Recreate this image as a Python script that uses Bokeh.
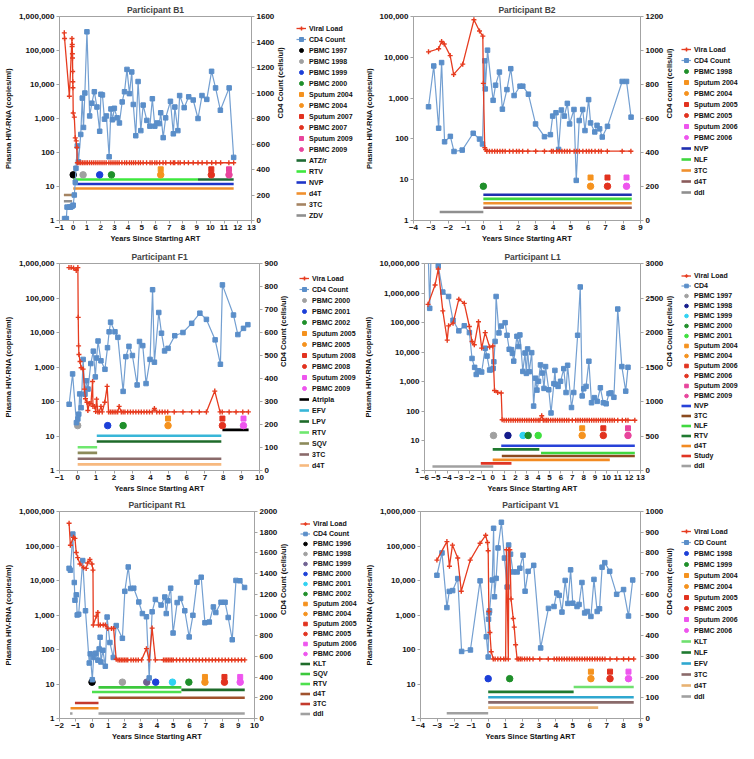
import math
from bokeh.plotting import figure
from bokeh.models import Range1d, LinearAxis, LinearScale, FixedTicker, NumeralTickFormatter, Legend, LegendItem
from bokeh.layouts import column, row
from bokeh.embed import file_html
from bokeh.resources import INLINE

# ======================= DATA =======================
# ---- Participant B1 ----
B1_vl_years = [-0.65, -0.63, -0.28, -0.09, -0.08, -0.07, -0.06, -0.05, -0.04, -0.03,
               -0.02, 0.0, 0.08, 0.15, 0.22, 0.26, 0.3, 0.42, 0.55, 0.68,
               0.8, 0.93, 1.05, 1.2, 1.35, 1.5, 1.65, 1.8, 1.95, 2.1,
               2.25, 2.4, 2.6, 2.75, 2.9, 3.05, 3.2, 3.35, 3.55, 3.75,
               3.9, 4.1, 4.25, 4.4, 4.55, 4.75, 4.9, 5.1, 5.35, 5.6,
               5.75, 5.95, 6.1, 6.3, 6.55, 6.75, 7.1, 7.3, 7.4, 7.65,
               7.8, 8.1, 8.4, 8.75, 9.1, 9.4, 9.75, 10.1, 10.4, 10.75,
               11.35, 11.7]
B1_vl = [330000, 225000, 4500, 225000, 130000, 150000, 80000, 60000, 24000, 12000,
         8000, 1450, 1100, 270, 220, 140, 50, 50, 50, 50,
         50, 50, 50, 50, 50, 50, 50, 50, 50, 50,
         50, 50, 50, 50, 50, 50, 50, 50, 50, 50,
         50, 50, 50, 50, 50, 50, 50, 50, 50, 50,
         50, 50, 50, 50, 50, 50, 50, 50, 50, 50,
         50, 50, 50, 50, 50, 50, 50, 50, 50, 50,
         50, 50]
B1_cd4_years = [-0.63, -0.5, -0.45, -0.28, -0.18, -0.08, 0.0, 0.08, 0.15, 0.2,
                0.3, 0.38, 0.55, 0.66, 0.75, 0.85, 1.0, 1.2, 1.36, 1.54,
                1.73, 1.93, 2.02, 2.13, 2.28, 2.42, 2.62, 2.75, 2.86, 3.0,
                3.2, 3.37, 3.57, 3.74, 3.92, 4.1, 4.27, 4.38, 4.56, 4.73,
                4.93, 5.1, 5.37, 5.59, 5.77, 5.95, 6.12, 6.28, 6.38, 6.56,
                6.74, 7.09, 7.3, 7.41, 7.63, 7.76, 8.09, 8.42, 8.75, 9.1,
                9.39, 9.74, 10.09, 10.38, 10.73, 11.37, 11.7]
B1_cd4 = [15, 15, 105, 105, 105, 112, 120, 200, 300, 410,
          585, 460, 675, 960, 730, 1000, 1480, 820, 920, 1010,
          890, 700, 990, 985, 795, 820, 500, 875, 790, 880,
          805, 765, 930, 1010, 1185, 995, 1165, 910, 665, 1090,
          705, 905, 785, 740, 955, 740, 765, 760, 845, 650,
          805, 935, 680, 890, 705, 980, 885, 970, 945, 800,
          980, 950, 1170, 1040, 865, 1040, 495]
B1_samples = ["PBMC 1997", "PBMC 1998", "PBMC 1999", "PBMC 2000", "Sputum 2004",
              "PBMC 2004", "Sputum 2007", "PBMC 2007", "Sputum 2009", "PBMC 2009"]
B1_sample_years = [0.0, 0.72, 1.93, 2.79, 6.38, 6.38, 10.07, 10.07, 11.36, 11.36]
B1_drugs = ["ATZ/r", "RTV", "NVP", "d4T", "3TC", "ZDV"]
B1_drug_start = [9.1, 0.0, 0.0, 0.0, -0.68, -0.68]
B1_drug_end = [11.7, 9.1, 11.7, 11.7, -0.08, -0.08]
B1_left_ticks = [1, 10, 100, 1000, 10000, 100000, 1000000]
B1_right_ticks = [0, 200, 400, 600, 800, 1000, 1200, 1400, 1600]
B1_x_ticks = [-1, 0, 1, 2, 3, 4, 5, 6, 7, 8, 9, 10, 11, 12, 13]

# ---- Participant B2 ----
B2_vl_years = [-3.14, -2.56, -2.39, -2.24, -1.9, -1.7, -1.18, -0.54, -0.22, -0.03,
               0.0, 0.08, 0.13, 0.2, 0.35, 0.5, 0.65, 0.8, 0.95, 1.1,
               1.25, 1.5, 1.7, 1.9, 2.05, 2.25, 2.55, 3.0, 3.5, 3.9,
               4.0, 4.2, 4.35, 4.5, 4.65, 4.8, 4.95, 5.2, 5.35, 5.5,
               5.7, 5.9, 6.05, 6.2, 6.4, 6.6, 6.75, 7.1, 7.95, 8.45]
B2_vl = [13600, 16200, 24300, 21200, 11000, 3800, 6800, 83000, 44000, 33000,
         2300, 61, 55, 50, 50, 50, 50, 50, 50, 50,
         50, 50, 50, 50, 50, 50, 50, 50, 50, 50,
         50, 50, 50, 50, 50, 50, 50, 50, 50, 50,
         50, 50, 50, 50, 50, 50, 50, 50, 50, 50]
B2_cd4_years = [-3.14, -2.84, -2.56, -2.39, -2.22, -1.89, -1.68, -1.21, -0.58, -0.22,
                -0.05, 0.08, 0.11, 0.24, 0.56, 0.7, 0.92, 1.09, 1.35, 1.57,
                1.76, 2.1, 2.26, 2.58, 2.99, 3.5, 3.84, 3.97, 4.16, 4.31,
                4.47, 4.64, 4.81, 4.94, 5.19, 5.32, 5.49, 5.69, 5.82, 6.03,
                6.14, 6.38, 6.51, 6.66, 6.81, 7.11, 7.95, 8.2, 8.46]
B2_cd4 = [669, 909, 543, 929, 463, 495, 406, 414, 513, 479,
          450, 939, 774, 1002, 707, 796, 873, 655, 770, 893,
          735, 790, 790, 743, 568, 493, 505, 614, 634, 418,
          650, 614, 689, 568, 653, 236, 588, 653, 529, 711,
          574, 521, 560, 539, 491, 554, 818, 818, 608]
B2_samples = ["PBMC 1998", "Sputum 2004", "PBMC 2004", "Sputum 2005", "PBMC 2005",
              "Sputum 2006", "PBMC 2006"]
B2_sample_years = [0.0, 6.14, 6.14, 7.11, 7.11, 8.2, 8.2]
B2_drugs = ["NVP", "NLF", "3TC", "d4T", "ddI"]
B2_drug_start = [0.0, 0.0, 0.0, 0.0, -2.5]
B2_drug_end = [8.5, 8.5, 8.5, 8.5, 0.0]
B2_left_ticks = [1, 10, 100, 1000, 10000, 100000]
B2_right_ticks = [0, 200, 400, 600, 800, 1000, 1200]
B2_x_ticks = [-4, -3, -2, -1, 0, 1, 2, 3, 4, 5, 6, 7, 8, 9]

# ---- Participant F1 ----
F1_vl_years = [-0.48, -0.36, -0.23, -0.08, 0.01, 0.03, 0.05, 0.07, 0.13, 0.19,
               0.3, 0.37, 0.43, 0.51, 0.56, 0.64, 0.73, 0.82, 0.84, 0.93,
               0.99, 1.04, 1.11, 1.19, 1.28, 1.35, 1.49, 1.62, 1.7, 1.8,
               1.9, 2.0, 2.1, 2.2, 2.28, 2.4, 2.5, 2.6, 2.75, 2.9,
               3.05, 3.2, 3.35, 3.5, 3.65, 3.8, 3.95, 4.1, 4.22, 4.35,
               4.5, 4.65, 4.8, 4.95, 5.31, 5.79, 6.27, 6.69, 7.08, 7.54,
               7.83, 7.95, 8.33, 8.71, 9.08, 9.39]
F1_vl = [760000, 760000, 740000, 630000, 760000, 27500, 4100, 2300, 1450, 955,
         870, 229, 120, 95, 55, 87, 87, 380, 72, 72,
         51, 117, 50, 50, 72, 50, 95, 275, 50, 50,
         50, 50, 50, 50, 72, 50, 50, 50, 50, 50,
         50, 50, 50, 50, 50, 50, 50, 50, 63, 50,
         50, 50, 50, 50, 50, 50, 50, 50, 50, 200,
         50, 50, 50, 50, 50, 50]
F1_cd4_years = [-0.47, -0.28, -0.07, 0.01, 0.06, 0.11, 0.19, 0.3, 0.4, 0.48,
                0.57, 0.72, 0.86, 0.97, 1.04, 1.12, 1.28, 1.5, 1.64, 1.73,
                1.81, 2.05, 2.21, 2.5, 2.65, 2.82, 3.01, 3.27, 3.4, 3.58,
                3.76, 3.98, 4.12, 4.22, 4.46, 4.61, 4.78, 4.97, 5.34, 5.79,
                6.27, 6.72, 7.08, 7.56, 7.85, 7.96, 8.57, 8.81, 9.12, 9.36]
F1_cd4 = [288, 420, 208, 224, 245, 333, 273, 483, 332, 390,
          354, 465, 519, 407, 489, 563, 477, 440, 534, 603,
          645, 603, 579, 344, 495, 540, 500, 372, 561, 543,
          378, 483, 786, 471, 687, 597, 520, 531, 586, 600,
          640, 684, 657, 568, 462, 807, 676, 591, 618, 634]
F1_samples = ["PBMC 2000", "PBMC 2001", "PBMC 2002", "Sputum 2005", "PBMC 2005",
              "Sputum 2008", "PBMC 2008", "Sputum 2009", "PBMC 2009"]
F1_sample_years = [0.0, 1.65, 2.5, 4.97, 4.97, 7.96, 7.96, 9.12, 9.12]
F1_drugs = ["Atripla", "EFV", "LPV", "RTV", "SQV", "3TC", "d4T"]
F1_drug_start = [7.96, 1.05, 1.05, 0.0, 0.0, 0.0, 0.0]
F1_drug_end = [9.4, 7.9, 7.9, 1.07, 1.07, 7.9, 7.9]
F1_left_ticks = [1, 10, 100, 1000, 10000, 100000, 1000000]
F1_right_ticks = [0, 100, 200, 300, 400, 500, 600, 700, 800, 900]
F1_x_ticks = [-1, 0, 1, 2, 3, 4, 5, 6, 7, 8, 9, 10]

# ---- Participant L1 ----
L1_vl_years = [-5.69, -5.07, -4.79, -4.39, -4.0, -3.88, -3.49, -2.98, -2.5, -2.05,
               -1.82, -1.62, -1.25, -0.97, -0.66, -0.27, 0.01, 0.16, 0.44, 0.75,
               0.83, 1.0, 1.2, 1.4, 1.6, 1.8, 2.0, 2.2, 2.4, 2.6,
               2.8, 3.0, 3.2, 3.4, 3.6, 3.8, 4.0, 4.15, 4.31, 4.45,
               4.6, 4.75, 4.9, 5.1, 5.3, 5.5, 5.7, 5.9, 6.1, 6.3,
               6.5, 6.7, 7.0, 7.3, 7.5, 7.7, 7.9, 8.1, 8.3, 8.5,
               8.7, 8.9, 9.1, 9.3, 9.5, 9.7, 9.9, 10.1, 10.3, 10.5,
               10.7, 11.0, 11.4, 11.7, 11.9, 12.5]
L1_vl = [415000, 1880000, 6500000, 250000, 25600, 78000, 96000, 620000, 450000, 74000,
         23000, 17800, 107000, 13800, 46000, 15000, 16300, 510, 435, 420,
         52, 50, 50, 50, 50, 50, 50, 50, 50, 50,
         50, 50, 50, 50, 50, 50, 50, 50, 71, 50,
         50, 50, 50, 50, 50, 50, 50, 50, 50, 50,
         50, 50, 50, 50, 50, 50, 50, 50, 50, 50,
         50, 50, 50, 50, 50, 50, 50, 50, 50, 50,
         50, 50, 50, 50, 50, 50]
L1_cd4_years = [-5.7, -5.54, -5.4, -4.79, -4.39, -3.88, -3.49, -2.98, -2.5, -2.05,
                -1.82, -1.59, -1.45, -1.25, -0.97, -0.66, -0.5, -0.27, -0.1, 0.04,
                0.1, 0.21, 0.3, 0.55, 0.75, 1.09, 1.26, 1.45, 1.65, 1.73,
                1.85, 2.13, 2.27, 2.39, 2.65, 2.84, 2.96, 3.07, 3.21, 3.43,
                3.6, 3.77, 3.89, 4.03, 4.2, 4.37, 4.51, 4.65, 4.93, 5.13,
                5.38, 5.47, 5.55, 5.75, 5.97, 6.25, 6.45, 6.59, 6.93, 7.13,
                7.47, 7.7, 7.87, 8.01, 8.21, 8.46, 8.69, 8.94, 9.19, 9.47,
                9.73, 9.98, 10.23, 10.4, 10.66, 11.0, 11.36, 11.7, 11.9]
L1_cd4 = [3300, 2350, 3300, 2966, 2586, 2522, 2177, 2024, 2098, 1999,
          1624, 1495, 1392, 1446, 1427, 1772, 1658, 1456, 1461, 1481,
          1575, 1871, 2522, 1994, 2093, 2142, 1960, 1757, 1752, 1698,
          1585, 1945, 1797, 1965, 1436, 1703, 1407, 1762, 1432, 1708,
          933, 1338, 1165, 1293, 1530, 1412, 1190, 1506, 1170, 834,
          1259, 1451, 1249, 1219, 1293, 1476, 1130, 1525, 913, 1130,
          1960, 2660, 1081, 1185, 1219, 1584, 982, 1056, 1002, 1199,
          982, 967, 1115, 1125, 1061, 2340, 1506, 1150, 1496]
L1_samples = ["PBMC 1997", "PBMC 1998", "PBMC 1999", "PBMC 2000", "PBMC 2001",
              "Sputum 2004", "PBMC 2004", "Sputum 2006", "PBMC 2006", "Sputum 2009",
              "PBMC 2009"]
L1_sample_years = [0.07, 1.34, 2.67, 3.12, 4.0, 7.87, 7.87, 9.73, 9.73, 11.9, 11.9]
L1_drugs = ["NVP", "3TC", "NLF", "RTV", "d4T", "Study", "ddI"]
L1_drug_start = [0.75, 0.8, 4.25, 0.0, 0.0, -1.05, -5.3]
L1_drug_end = [12.5, 12.5, 12.5, 4.1, 10.3, 1.65, 0.05]
L1_left_ticks = [1, 10, 100, 1000, 10000, 100000, 1000000, 10000000]
L1_right_ticks = [0, 500, 1000, 1500, 2000, 2500, 3000]
L1_x_ticks = [-6, -5, -4, -3, -2, -1, 0, 1, 2, 3, 4, 5, 6, 7, 8, 9, 10, 11, 12, 13]

# ---- Participant R1 ----
R1_vl_years = [-1.41, -1.33, -1.14, -1.05, -0.97, -0.88, -0.74, -0.51, -0.36, -0.27,
               -0.13, 0.0, 0.06, 0.08, 0.27, 0.36, 0.4, 0.51, 0.69, 0.82,
               0.97, 1.2, 1.33, 1.49, 1.6, 1.7, 1.8, 1.9, 2.0, 2.1,
               2.2, 2.4, 2.55, 2.7, 2.85, 3.05, 3.35, 3.52, 3.7, 3.9,
               4.4, 4.5, 4.6, 4.7, 4.8, 4.9, 5.0, 5.2, 5.4, 5.6,
               5.8, 6.0, 6.2, 6.4, 6.6, 6.8, 7.0, 7.2, 7.4, 7.6,
               7.8, 8.0, 8.2, 8.4, 8.6, 8.8, 9.0, 9.2, 9.4]
R1_vl = [457000, 105000, 178000, 166000, 65000, 46000, 30000, 23400, 22400, 32000,
         40500, 30000, 20000, 515, 930, 1180, 515, 515, 515, 515,
         407, 407, 407, 52, 50, 50, 50, 50, 50, 50,
         50, 50, 50, 50, 50, 50, 106, 50, 417, 50,
         50, 50, 50, 50, 50, 50, 50, 50, 50, 50,
         50, 50, 50, 50, 50, 50, 50, 50, 50, 50,
         50, 50, 50, 50, 50, 50, 50, 50, 50]
R1_cd4_years = [-1.41, -1.33, -1.18, -1.09, -1.05, -0.97, -0.91, -0.82, -0.57, -0.4,
                -0.17, -0.11, 0.02, 0.1, 0.23, 0.36, 0.44, 0.5, 0.55, 0.67,
                0.82, 0.93, 1.1, 1.31, 1.49, 1.87, 2.02, 2.23, 2.38, 2.57,
                2.88, 3.1, 3.35, 3.52, 3.7, 3.9, 4.25, 4.48, 4.57, 4.67,
                4.84, 4.99, 5.24, 5.45, 5.71, 5.98, 6.21, 6.46, 6.72, 6.95,
                7.22, 7.47, 7.62, 7.94, 8.19, 8.38, 8.63, 8.86, 9.1, 9.39]
R1_cd4 = [1451, 1433, 1782, 1314, 1143, 1195, 1000, 1007, 1526, 1041,
          536, 625, 375, 590, 631, 563, 672, 785, 546, 659,
          505, 980, 734, 590, 898, 775, 1229, 1464, 1256, 1259,
          1126, 1014, 983, 392, 1031, 1150, 1096, 1174, 1014, 1137,
          1259, 826, 1120, 1160, 1041, 788, 997, 1317, 1365, 925,
          932, 1078, 1024, 1123, 1123, 976, 761, 1334, 1331, 1266]
R1_samples = ["PBMC 1996", "PBMC 1998", "PBMC 1999", "PBMC 2000", "PBMC 2001",
              "PBMC 2002", "Sputum 2004", "PBMC 2004", "Sputum 2005", "PBMC 2005",
              "Sputum 2006", "PBMC 2006"]
R1_sample_years = [0.0, 1.87, 3.37, 3.92, 4.95, 5.96, 6.95, 6.95, 8.15, 8.15, 9.12, 9.12]
R1_drugs = ["KLT", "SQV", "RTV", "d4T", "3TC", "ddI", "ddI", ""]
R1_drug_start = [5.5, 0.4, 0.0, 0.4, -1.05, -1.35, 0.4, -1.32]
R1_drug_end = [9.4, 5.5, 5.5, 9.4, 0.4, -1.2, 9.4, 0.4]
R1_left_ticks = [1, 10, 100, 1000, 10000, 100000, 1000000]
R1_right_ticks = [0, 200, 400, 600, 800, 1000, 1200, 1400, 1600, 1800, 2000]
R1_x_ticks = [-2, -1, 0, 1, 2, 3, 4, 5, 6, 7, 8, 9, 10]

# ---- Participant V1 ----
V1_vl_years = [-3.03, -2.44, -2.29, -2.11, -1.8, -1.59, -1.06, -0.48, -0.15, -0.04,
               0.0, 0.04, 0.1, 0.18, 0.3, 0.41, 0.57, 0.73, 0.92, 1.03,
               1.08, 1.19, 1.22, 1.28, 1.35, 1.48, 1.54, 1.62, 1.71, 1.8,
               1.9, 2.0, 2.15, 2.3, 2.45, 2.65, 3.05, 3.55, 3.9, 4.05,
               4.2, 4.35, 4.5, 4.65, 4.8, 4.95, 5.1, 5.25, 5.4, 5.55,
               5.7, 5.85, 6.0, 6.15, 6.3, 6.45, 6.6, 6.75, 6.9, 7.2,
               7.6, 8.0, 8.3, 8.6]
V1_vl = [39000, 134000, 26000, 106000, 45000, 4900, 39000, 120000, 204000, 126000,
         73000, 1260, 310, 86, 53, 53, 53, 53, 53, 53,
         78000, 53, 78000, 78000, 2900, 790, 445, 137, 53, 53,
         53, 53, 53, 53, 53, 53, 53, 53, 53, 53,
         53, 53, 53, 53, 53, 53, 53, 53, 53, 53,
         53, 53, 53, 53, 53, 53, 53, 53, 53, 53,
         53, 53, 53, 53]
V1_cd4_years = [-3.03, -2.73, -2.44, -2.3, -2.1, -1.8, -1.57, -1.05, -0.48, -0.11,
                0.0, 0.02, 0.05, 0.08, 0.24, 0.32, 0.37, 0.47, 0.58, 0.78,
                0.96, 1.12, 1.21, 1.32, 1.46, 1.71, 1.87, 2.06, 2.18, 2.36,
                2.69, 3.1, 3.56, 3.89, 4.05, 4.2, 4.36, 4.55, 4.71, 4.87,
                5.0, 5.25, 5.37, 5.54, 5.7, 5.86, 6.07, 6.25, 6.44, 6.58,
                6.73, 6.89, 7.18, 7.59, 8.0, 8.29, 8.54]
V1_cd4 = [692, 800, 536, 614, 618, 676, 324, 331, 665, 395,
          297, 480, 510, 520, 669, 919, 588, 677, 824, 948,
          775, 635, 838, 794, 708, 708, 726, 789, 615, 711,
          740, 341, 532, 541, 606, 595, 514, 667, 556, 718,
          557, 541, 551, 657, 510, 517, 493, 672, 517, 530,
          731, 753, 711, 600, 623, 495, 669]
V1_samples = ["PBMC 1998", "PBMC 1999", "Sputum 2004", "PBMC 2004", "Sputum 2005",
              "PBMC 2005", "Sputum 2006", "PBMC 2006"]
V1_sample_years = [0.0, 1.27, 6.07, 6.07, 7.2, 7.2, 8.29, 8.29]
V1_drugs = ["KLT", "NLF", "EFV", "3TC", "d4T", "ddI"]
V1_drug_start = [5.05, 0.0, 0.0, 0.0, 0.0, -2.45]
V1_drug_end = [8.6, 5.05, 8.6, 8.6, 6.5, 0.0]
V1_left_ticks = [1, 10, 100, 1000, 10000, 100000, 1000000]
V1_right_ticks = [0, 100, 200, 300, 400, 500, 600, 700, 800, 900, 1000]
V1_x_ticks = [-4, -3, -2, -1, 0, 1, 2, 3, 4, 5, 6, 7, 8, 9]

# ======================= STYLE =======================
FONT = "Liberation Sans"
GREY_AX = "#a3a3a3"
VL_RED = "#e63b1f"
CD4_BLUE = "#5a8ec9"
CD4_LINE = "#739fd1"
BLACK = "#000000"; GREY = "#a0a0a0"; BLUE = "#1c3fd8"; GREEN = "#1f8f2a"
ORANGE = "#f5921e"; RED = "#e2321f"; PINK = "#e8449c"; MAGENTA = "#ee55ee"
NAVY = "#141c8c"; CYAN = "#2fd2f2"; LGREEN = "#3ee03e"; PURPLE = "#6f6191"

panels = [
    dict(title="Participant B1", vlx=B1_vl_years, vl=B1_vl, cdx=B1_cd4_years, cd=B1_cd4,
         sn=B1_samples, sx=B1_sample_years, dn=B1_drugs, ds=B1_drug_start, de=B1_drug_end,
         lt=B1_left_ticks, rt=B1_right_ticks, xt=B1_x_ticks,
         vl_label="Viral Load", cd_label="CD4 Count", rlabel="CD4 Count (cells/ul)",
         scol=[BLACK, GREY, BLUE, GREEN, ORANGE, ORANGE, RED, RED, PINK, PINK],
         dcol=["#1e6b34", "#3ee83e", "#1f35c8", "#f0902e", "#a58462", "#8f8f8f"],
         dlev=[16, 16, 11.9, 8.7, 5.6, 3.7], slev=(22, 32),
         w=292, lw=69, h=245, mbl=56, mbt=9, mbb=25, mbr=39, leg_x=4, leg_y=0, pitch=11),
    dict(title="Participant B2", vlx=B2_vl_years, vl=B2_vl, cdx=B2_cd4_years, cd=B2_cd4,
         sn=B2_samples, sx=B2_sample_years, dn=B2_drugs, ds=B2_drug_start, de=B2_drug_end,
         lt=B2_left_ticks, rt=B2_right_ticks, xt=B2_x_ticks,
         vl_label="Vira Load", cd_label="CD4 Count", rlabel="CD4 count (cells/ul)",
         scol=[GREEN, ORANGE, ORANGE, RED, RED, MAGENTA, MAGENTA],
         dcol=["#1f2fb0", "#3fd63f", "#f0902e", "#8a5b5b", "#8f8f8f"],
         dlev=[4.27, 3.39, 2.64, 2.05, 1.62], slev=(6.9, 11.3),
         w=320, lw=57, h=245, mbl=50, mbt=9, mbb=25, mbr=39, leg_x=0, leg_y=23, pitch=11),
    dict(title="Participant F1", vlx=F1_vl_years, vl=F1_vl, cdx=F1_cd4_years, cd=F1_cd4,
         sn=F1_samples, sx=F1_sample_years, dn=F1_drugs, ds=F1_drug_start, de=F1_drug_end,
         lt=F1_left_ticks, rt=F1_right_ticks, xt=F1_x_ticks,
         vl_label="Vira Load", cd_label="CD4 Count", rlabel="CD4 Count (cells/ul)",
         scol=[GREY, BLUE, GREEN, ORANGE, ORANGE, RED, RED, MAGENTA, MAGENTA],
         dcol=["#000000", "#38b6d8", "#1e6b2a", "#6fe86f", "#8c8a5a", "#8a6a6a", "#f7b97f"],
         dlev=[15, 10.2, 6.9, 4.7, 3.24, 2.19, 1.51], slev=(20, 32),
         w=295, lw=66, h=250, mbl=56, mbt=18, mbb=25, mbr=33, leg_x=4, leg_y=0, pitch=11),
    dict(title="Participant L1", vlx=L1_vl_years, vl=L1_vl, cdx=L1_cd4_years, cd=L1_cd4,
         sn=L1_samples, sx=L1_sample_years, dn=L1_drugs, ds=L1_drug_start, de=L1_drug_end,
         lt=L1_left_ticks, rt=L1_right_ticks, xt=L1_x_ticks,
         vl_label="Viral Load", cd_label="CD4", rlabel="CD4 Count (cells/ul)",
         scol=[GREY, NAVY, CYAN, GREEN, LGREEN, ORANGE, ORANGE, RED, RED, PINK, PINK],
         dcol=["#2742d8", "#8b4a1f", "#40d840", "#1f7a30", "#f28a22", "#e03524", "#a0a0a0"],
         dlev=[6.9, 3.1, 3.9, 5.2, 2.28, 1.74, 1.37], slev=(15.3, 26.8),
         w=320, lw=57, h=250, mbl=60, mbt=18, mbb=25, mbr=39, leg_x=0, leg_y=0, pitch=10),
    dict(title="Participant R1", vlx=R1_vl_years, vl=R1_vl, cdx=R1_cd4_years, cd=R1_cd4,
         sn=R1_samples, sx=R1_sample_years, dn=R1_drugs, ds=R1_drug_start, de=R1_drug_end,
         lt=R1_left_ticks, rt=R1_right_ticks, xt=R1_x_ticks,
         vl_label="Viral Load", cd_label="CD4 Count", rlabel="CD4 Count (cells/ul)",
         scol=[BLACK, GREY, PURPLE, BLUE, CYAN, GREEN, ORANGE, ORANGE, RED, RED, MAGENTA, MAGENTA],
         dcol=["#1e6b2a", "#3cc83c", "#4ee04e", "#a0522d", "#c43a2c", "#a0a0a0", "#a0a0a0", "#f08a22"],
         dlev=[6.74, 7.96, 5.85, 4.0, 2.82, 1.39, 1.39, 1.98], slev=(11.3, 16),
         w=295, lw=66, h=248, mbl=56, mbt=16, mbb=25, mbr=41, leg_x=5, leg_y=0, pitch=10),
    dict(title="Participant V1", vlx=V1_vl_years, vl=V1_vl, cdx=V1_cd4_years, cd=V1_cd4,
         sn=V1_samples, sx=V1_sample_years, dn=V1_drugs, ds=V1_drug_start, de=V1_drug_end,
         lt=V1_left_ticks, rt=V1_right_ticks, xt=V1_x_ticks,
         vl_label="Viral Load", cd_label="CD Count", rlabel="CD4 Count (cell/ul)",
         scol=[BLUE, GREEN, ORANGE, ORANGE, RED, RED, MAGENTA, MAGENTA],
         dcol=["#6fe06f", "#1f7a30", "#2fa8d0", "#8a6a6a", "#e8b272", "#a0a0a0"],
         dlev=[8.2, 5.9, 4.15, 2.93, 2.06, 1.42], slev=(14.3, 22.8),
         w=320, lw=57, h=248, mbl=56, mbt=16, mbb=25, mbr=39, leg_x=0, leg_y=17, pitch=11),
]


def style_axis(ax, label, lab_so=2, title_so=3):
    ax.axis_label = label
    ax.axis_label_text_font = FONT
    ax.axis_label_text_font_size = "7.5px"
    ax.axis_label_text_font_style = "bold"
    ax.axis_label_text_color = "#111111"
    ax.axis_label_standoff = title_so
    ax.major_label_text_font = FONT
    ax.major_label_text_font_size = "8px"
    ax.major_label_text_font_style = "bold"
    ax.major_label_text_color = "#111111"
    ax.major_label_standoff = lab_so
    ax.axis_line_color = GREY_AX
    ax.major_tick_line_color = GREY_AX
    ax.minor_tick_line_color = None
    ax.major_tick_out = 3
    ax.major_tick_in = 0


def make_panel(c):
    lt = c["lt"]
    p = figure(width=c["w"], height=c["h"],
               x_range=Range1d(c["xt"][0], c["xt"][-1]),
               y_range=Range1d(lt[0], lt[-1]), y_axis_type="log",
               output_backend="svg", toolbar_location=None,
               min_border_left=c["mbl"], min_border_right=c["mbr"],
               min_border_top=c["mbt"], min_border_bottom=c["mbb"])
    p.title.text = c["title"]
    p.title.align = "center"
    p.title.text_font = FONT
    p.title.text_font_size = "8.5px"
    p.title.text_font_style = "bold"
    p.title.standoff = 4
    p.outline_line_color = GREY_AX
    p.xgrid.grid_line_color = None
    p.ygrid.grid_line_color = None
    p.background_fill_color = "white"
    p.border_fill_color = "white"
    p.extra_y_ranges = {"cd4": Range1d(c["rt"][0], c["rt"][-1])}
    p.extra_y_scales = {"cd4": LinearScale()}

    style_axis(p.xaxis[0], "Years Since Starting ART", lab_so=1, title_so=1)
    p.xaxis[0].ticker = FixedTicker(ticks=c["xt"], minor_ticks=[])
    style_axis(p.yaxis[0], "Plasma HIV-RNA (copies/ml)")
    p.yaxis[0].ticker = FixedTicker(ticks=lt, minor_ticks=[])
    p.yaxis[0].formatter = NumeralTickFormatter(format="0,0")

    ra = LinearAxis(y_range_name="cd4", ticker=FixedTicker(ticks=c["rt"], minor_ticks=[]))
    style_axis(ra, c["rlabel"])
    try:
        ra.axis_label_orientation = math.pi / 2
    except Exception:
        pass
    p.add_layout(ra, "right")

    # drug lines
    for s, e, col, lev in zip(c["ds"], c["de"], c["dcol"], c["dlev"]):
        p.segment(x0=[s], y0=[lev], x1=[e], y1=[lev], line_color=col, line_width=2.6)

    # sample markers
    clev, slev = c["slev"]
    for name, x, col in zip(c["sn"], c["sx"], c["scol"]):
        if name.startswith("Sputum"):
            p.scatter(x=[x], y=[slev], marker="square", size=5, fill_color=col, line_color=col)
        else:
            p.scatter(x=[x], y=[clev], marker="circle", size=6.5, fill_color=col, line_color=col)

    # CD4
    p.line(c["cdx"], c["cd"], y_range_name="cd4", line_color=CD4_LINE, line_width=1.2)
    p.scatter(c["cdx"], c["cd"], y_range_name="cd4", marker="square", size=4.5,
              fill_color=CD4_BLUE, line_color=CD4_BLUE)
    # viral load
    p.line(c["vlx"], c["vl"], line_color=VL_RED, line_width=1.3)
    p.scatter(c["vlx"], c["vl"], marker="cross", size=5, line_color=VL_RED, line_width=1.4)

    # ---- legend figure: key glyphs only (their stand-in points lie outside its view) ----
    lf = figure(width=c["lw"], height=c["h"], x_range=Range1d(0, 1), y_range=Range1d(0, 1),
                output_backend="svg", toolbar_location=None, title=None,
                x_axis_location=None, y_axis_location=None,
                min_border_left=0, min_border_right=0, min_border_top=0, min_border_bottom=0)
    lf.outline_line_color = None
    lf.xgrid.visible = False
    lf.ygrid.visible = False
    lf.border_fill_color = "white"
    lf.background_fill_color = "white"
    pt = dict(x=[-5], y=[-5])
    ln = dict(x=[-6, -5], y=[-5, -5])
    items = [
        LegendItem(label=c["vl_label"], renderers=[
            lf.line(line_color=VL_RED, line_width=1.3, **ln),
            lf.scatter(marker="cross", size=5, line_color=VL_RED, line_width=1.4, **pt)]),
        LegendItem(label=c["cd_label"], renderers=[
            lf.line(line_color=CD4_LINE, line_width=1.2, **ln),
            lf.scatter(marker="square", size=4.5, fill_color=CD4_BLUE, line_color=CD4_BLUE, **pt)]),
    ]
    for name, col in zip(c["sn"], c["scol"]):
        if name.startswith("Sputum"):
            r = lf.scatter(marker="square", size=5, fill_color=col, line_color=col, **pt)
        else:
            r = lf.scatter(marker="circle", size=6.5, fill_color=col, line_color=col, **pt)
        items.append(LegendItem(label=name, renderers=[r]))
    seen = []
    for name, col in zip(c["dn"], c["dcol"]):
        if name and name not in seen:
            seen.append(name)
            r = lf.line(line_color=col, line_width=2.6, **ln)
            items.append(LegendItem(label=name, renderers=[r]))
    gh = c["pitch"] - 1
    leg = Legend(items=items, location=(c["leg_x"], c["leg_y"]),
                 label_text_font=FONT, label_text_font_size="7px", label_text_font_style="bold",
                 label_text_color="#111111",
                 glyph_width=10, glyph_height=gh, label_height=gh, label_standoff=3,
                 spacing=1, padding=0, margin=0,
                 border_line_color=None, background_fill_alpha=0)
    lf.add_layout(leg)
    return row(p, lf)


figs = [make_panel(c) for c in panels]
layout = column(row(figs[0], figs[1]), row(figs[2], figs[3]), row(figs[4], figs[5]))

open("out.html", "w").write(file_html(layout, INLINE))
